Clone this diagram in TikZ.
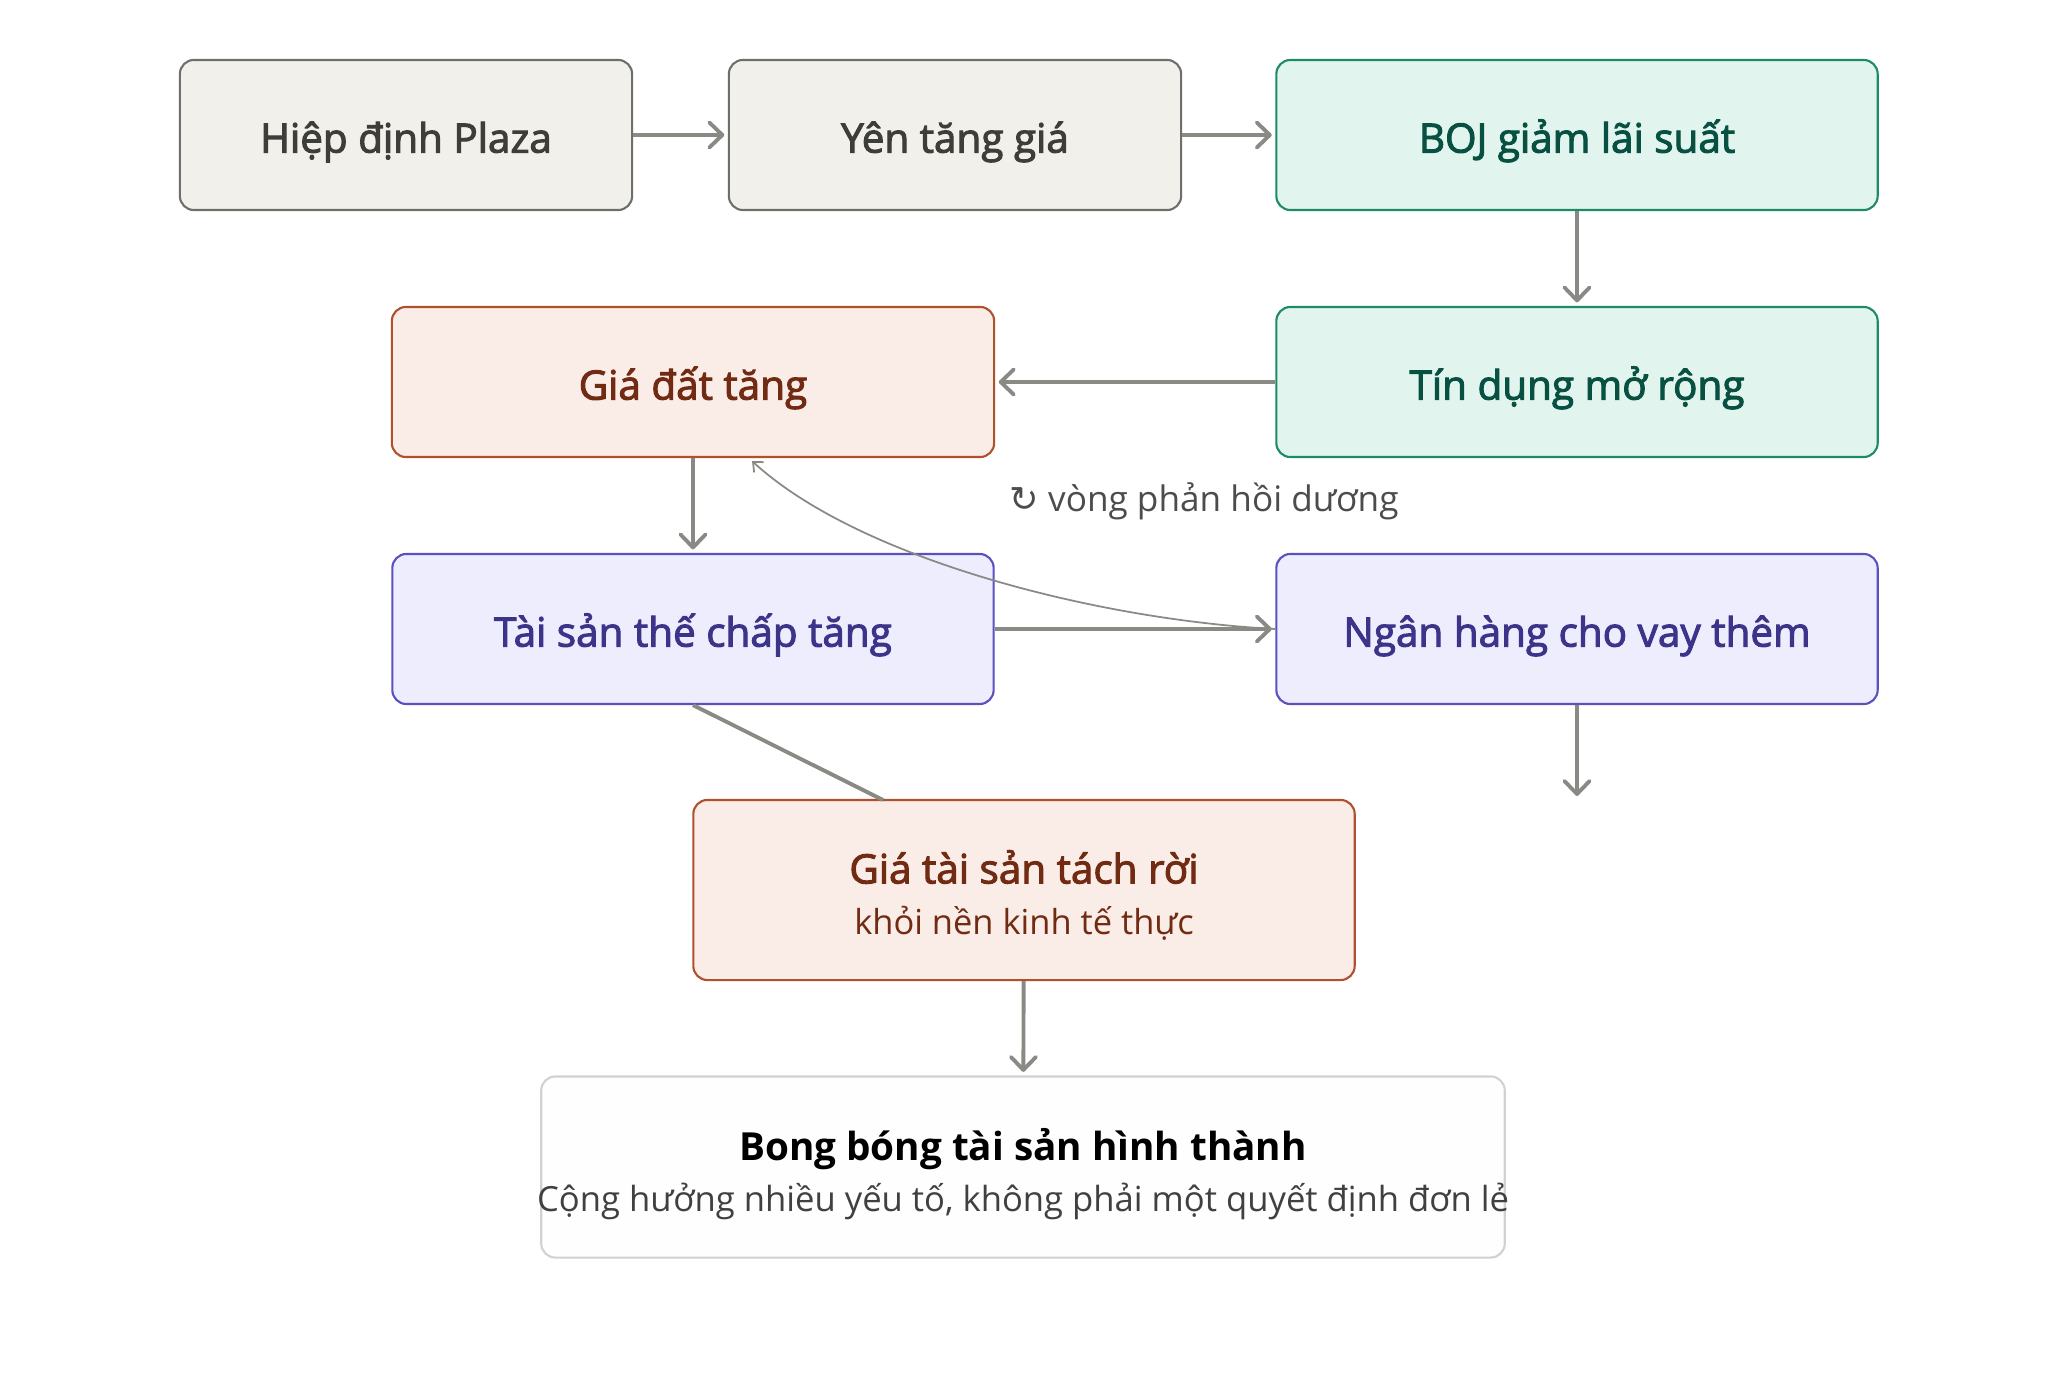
\documentclass[tikz,border=0pt]{standalone}
\usepackage{fontspec}
\setmainfont{Open Sans}
\newfontfamily\titlefont{Open Sans}[FakeBold=2.5]
\newfontfamily\symfont{DejaVu Sans}
\usetikzlibrary{positioning, arrows.meta}
\definecolor{grayfill}{HTML}{F1F0EB}
\definecolor{graydraw}{HTML}{6E6E6A}
\definecolor{graytext}{HTML}{3D3D3A}
\definecolor{greenfill}{HTML}{E1F5EE}
\definecolor{greendraw}{HTML}{1D8A6A}
\definecolor{greentext}{HTML}{085041}
\definecolor{redfill}{HTML}{FAECE7}
\definecolor{reddraw}{HTML}{B0502C}
\definecolor{redtext}{HTML}{712B13}
\definecolor{bluefill}{HTML}{EEEDFE}
\definecolor{bluedraw}{HTML}{5A50C0}
\definecolor{bluetext}{HTML}{3C3489}
\definecolor{arrowgray}{HTML}{8A8A85}

\begin{document}
\begin{tikzpicture}[x=0.01cm, y=-0.01cm,
		  box/.style={rectangle, rounded corners=4pt, line width=0.6pt, minimum height=1.5cm, inner sep=0pt, text height=10pt, text depth=0pt, font=\titlefont\fontsize{11.5}{14}\selectfont},
		  gray box/.style={box, fill=grayfill, draw=graydraw, text=graytext, minimum width=4.52cm},
		  green box/.style={box, fill=greenfill, draw=greendraw, text=greentext, minimum width=6.01cm},
		  red box/.style={box, fill=redfill, draw=reddraw, text=redtext, minimum width=6.02cm},
		  blue box/.style={box, fill=bluefill, draw=bluedraw, text=bluetext, minimum width=6.01cm},
		  flow/.style={-{Straight Barb[length=1.3mm, width=2.5mm, round]}, line width=1.1pt, arrowgray, shorten >=1pt},
		  loop/.style={-{Straight Barb[length=0.8mm, width=1.4mm]}, line width=0.5pt, arrowgray}]
		  \useasboundingbox (0,0) rectangle (2048,1385);
		  % top row
		  \node[gray box] (plaza) at (406,135) {Hiệp định Plaza};
		  \node[gray box] (yen) at (955,135) {Yên tăng giá};
		  \node[green box] (boj) at (1577,135) {BOJ giảm lãi suất};
		  % middle rows
		  \node[green box] (credit) at (1577,382) {Tín dụng mở rộng};
		  \node[red box] (land) at (693,382) {Giá đất tăng};
		  \node[blue box] (collat) at (693,629) {Tài sản thế chấp tăng};
		  \node[blue box] (bank) at (1577,629) {Ngân hàng cho vay thêm};
		  % lower boxes
		  \node[red box, minimum width=6.61cm, minimum height=1.8cm] (decouple) at (1024,890) {};
		  \node[font=\titlefont\fontsize{11.5}{14}\selectfont, text=redtext] (decoupleA) at (1024,867) {Giá tài sản tách rời};
		  \node[font=\fontsize{9.8}{12}\selectfont, text=redtext] (decoupleB) at (1024,923) {khỏi nền kinh tế thực};
		  \node[box, fill=white!99.5!black, draw=black!18, minimum width=9.63cm, minimum height=1.81cm] (bubble) at (1023,1167) {};
		  \node[font=\fontsize{11}{14}\selectfont\bfseries, text=black] (bubbleA) at (1023,1149) {Bong bóng tài sản hình thành};
		  \node[font=\fontsize{9.85}{12}\selectfont, text=black!75] (bubbleB) at (1023,1201) {Cộng hưởng nhiều yếu tố, không phải một quyết định đơn lẻ};
		  \node[font=\fontsize{10}{12}\selectfont, text=black!70] (looplabel) at (1204,501) {{\symfont ↻} vòng phản hồi dương};
		  \coordinate (bankout) at (1577,796);
		  \coordinate (decouplein) at (883,800);
		  \coordinate (landin) at (752,461);
		  % connectors
		  \draw[flow] (plaza) -- (yen);
		  \draw[flow] (yen) -- (boj);
		  \draw[flow] (boj) -- (credit);
		  \draw[flow] (credit) -- (land);
		  \draw[flow] (land) -- (collat);
		  \draw[flow] (collat) -- (bank);
		  \draw[flow, shorten >=0pt] (bank) -- (bankout);
		  \draw[line width=1.1pt, arrowgray] (collat.south) -- (decouplein);
		  \draw[flow] (decouple) -- (bubble);
		  \draw[loop] (bank.west) .. controls (1100,620) and (860,560) .. (landin);
\end{tikzpicture}
\end{document}
